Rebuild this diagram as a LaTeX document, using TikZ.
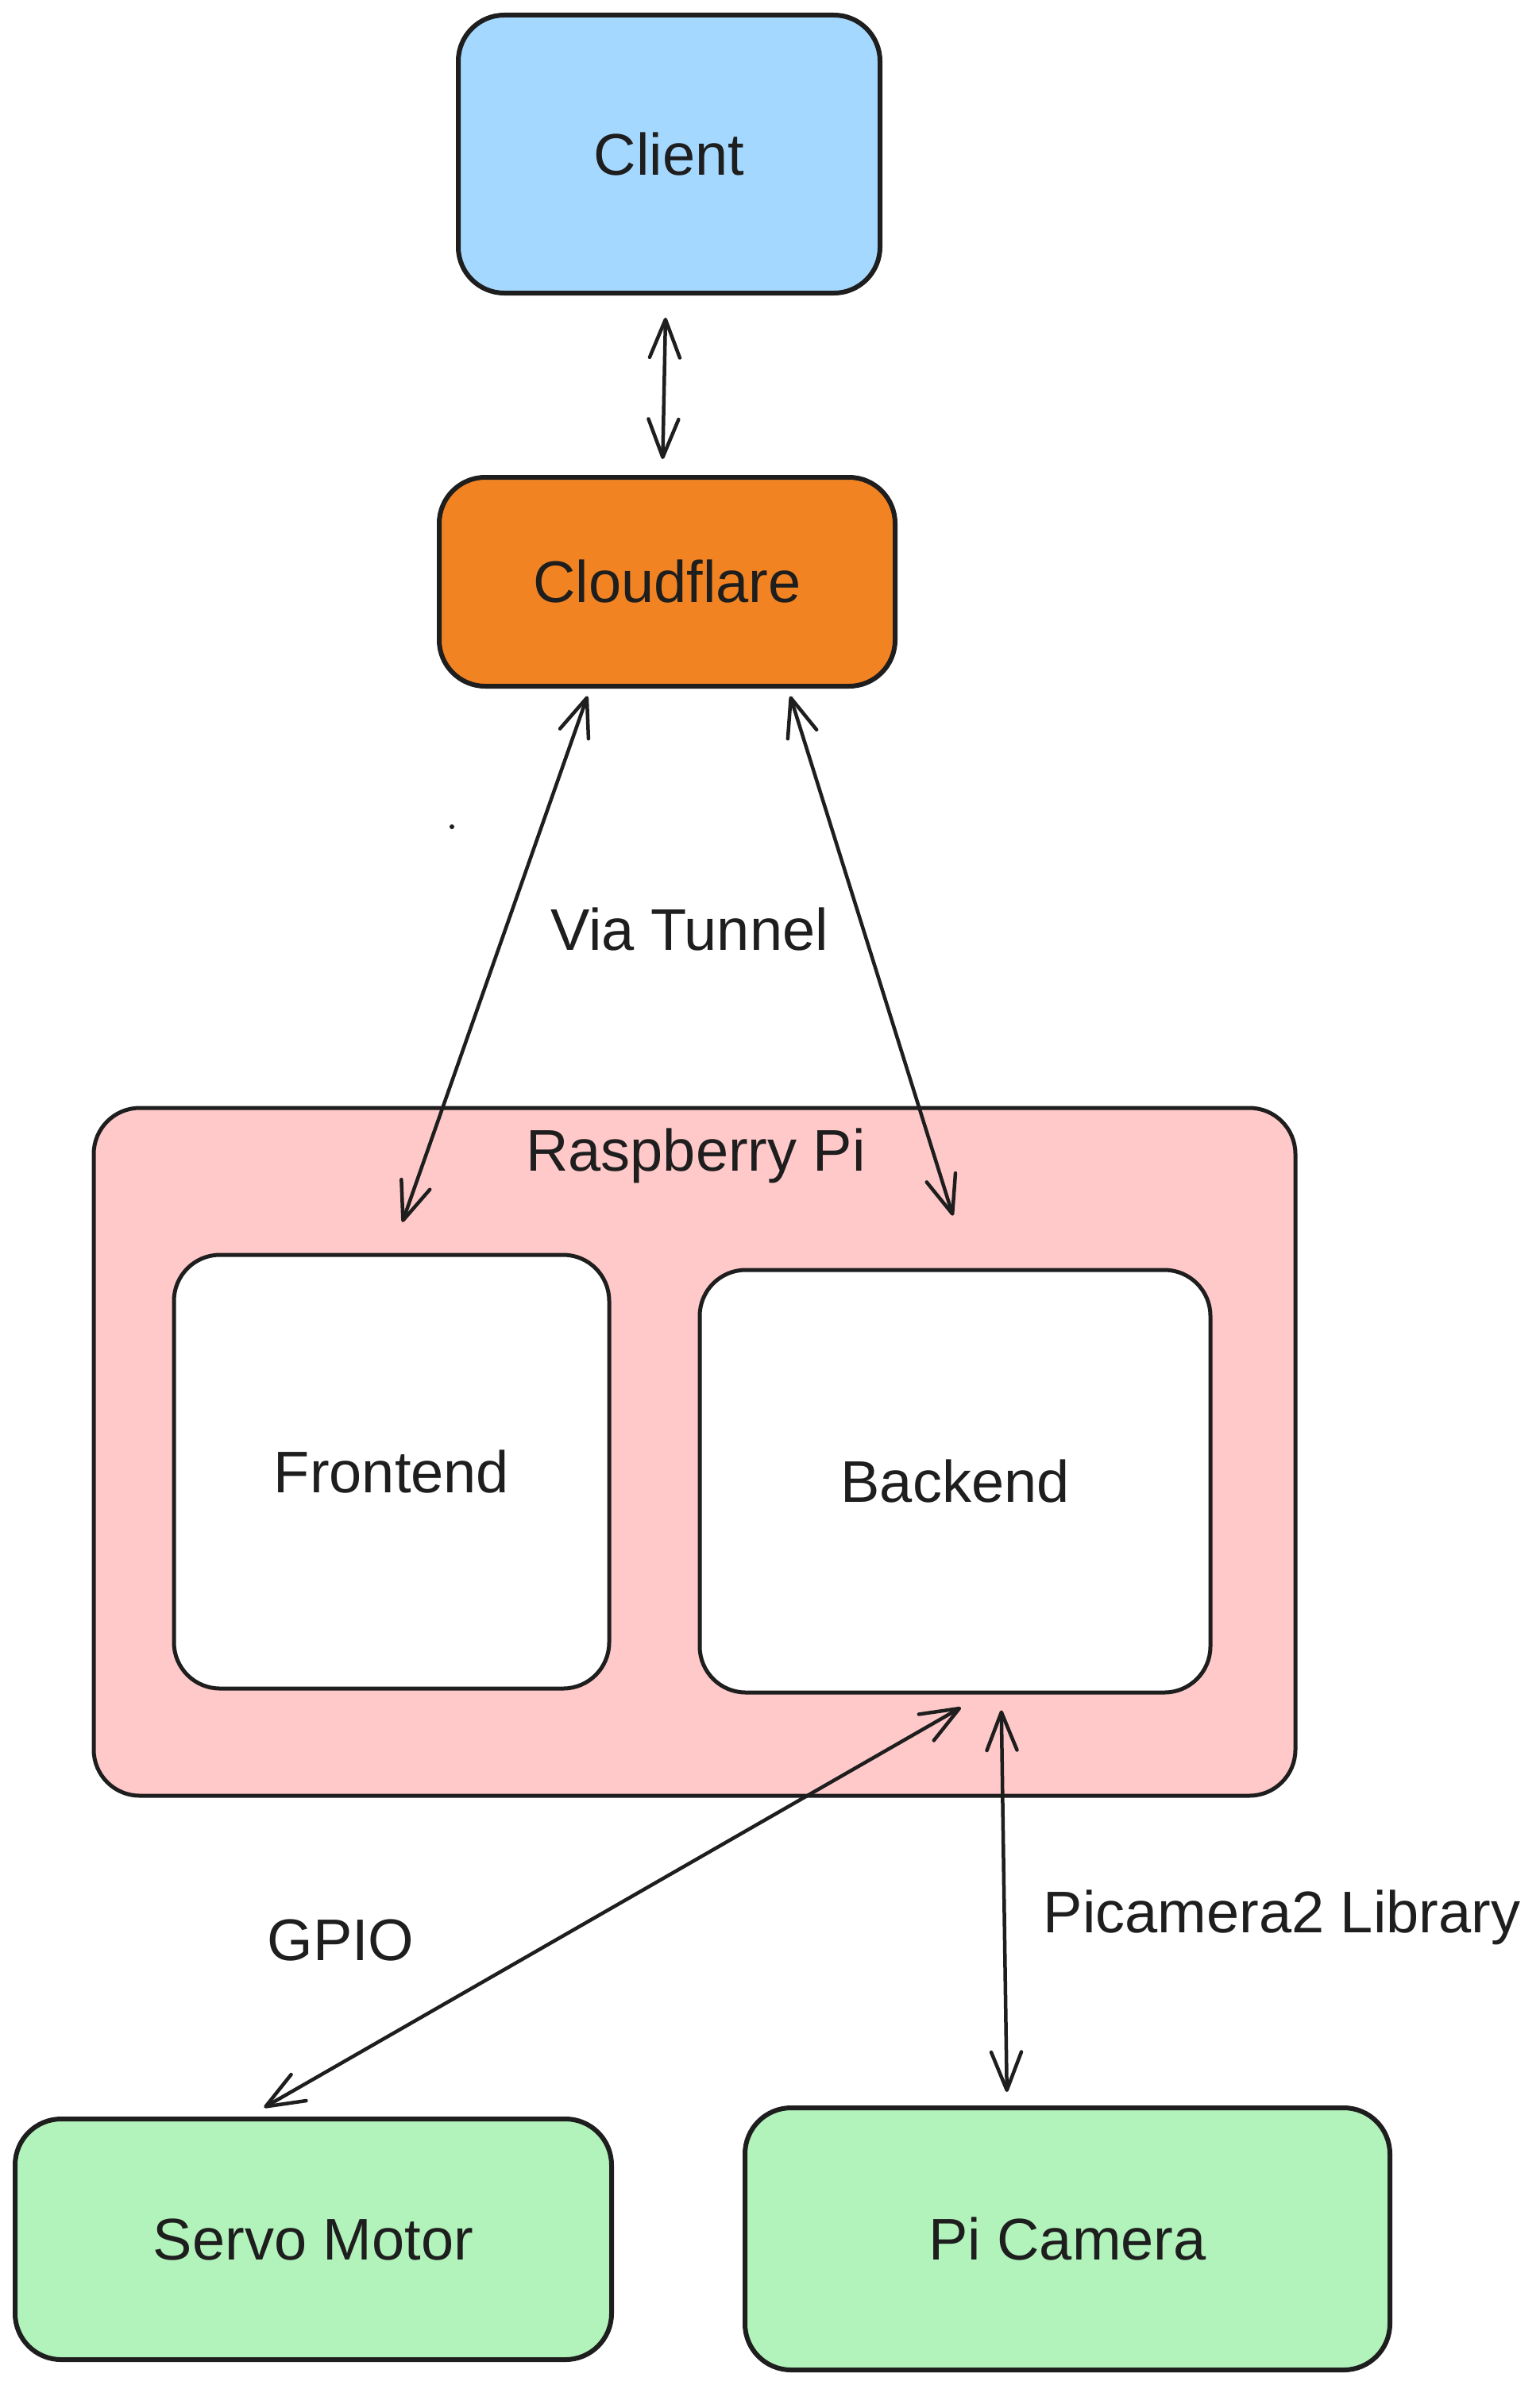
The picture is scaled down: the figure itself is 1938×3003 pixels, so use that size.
\documentclass[tikz,border=0pt]{standalone}
\usepackage{fontspec}
\setmainfont{Liberation Sans}
\usetikzlibrary{arrows.meta}
\definecolor{ink}{HTML}{1E1E1E}
\definecolor{clientfill}{HTML}{A5D8FF}
\definecolor{cloudfill}{HTML}{F28322}
\definecolor{pifill}{HTML}{FFC9C9}
\definecolor{greenfill}{HTML}{B2F2BB}
\begin{document}
\begin{tikzpicture}[x=1pt,y=-1pt,
  box/.style={draw=ink, rounded corners=58pt, line width=6pt, inner sep=0pt,
    font=\fontsize{74}{88}\selectfont, text=ink},
  thinbox/.style={box, line width=5pt},
  lbl/.style={font=\fontsize{74}{88}\selectfont, text=ink, inner sep=0pt},
  biarrow/.style={draw=ink, line width=4.5pt, line cap=round,
    {Straight Barb[length=48pt,width=38pt,round]}-{Straight Barb[length=48pt,width=38pt,round]}}
]
\fill[white] (0,0) rectangle (1938,3003);
\useasboundingbox (0,0) rectangle (1938,3003);

% nodes
\node[box, fill=clientfill, minimum width=531pt, minimum height=350pt] (client) at (842.5,194) {Client};
\node[box, fill=cloudfill, minimum width=574pt, minimum height=263pt] (cloud) at (840,732.5) {Cloudflare};
\node[thinbox, fill=pifill, minimum width=1513pt, minimum height=866pt] (rpi) at (874.5,1828) {};
\node[lbl] (rpilabel) at (876,1455) {Raspberry Pi};
\node[thinbox, fill=white, minimum width=548pt, minimum height=546pt] (frontend) at (493,1853) {Frontend};
\node[thinbox, fill=white, minimum width=643pt, minimum height=532pt] (backend) at (1202.5,1865) {Backend};
\node[box, fill=greenfill, minimum width=751pt, minimum height=303pt] (servo) at (394.5,2819.5) {Servo Motor};
\node[box, fill=greenfill, minimum width=812pt, minimum height=330pt] (picam) at (1344,2819) {Pi Camera};

% labels
\node[lbl] (tunnel) at (868,1170) {Via Tunnel};
\node[lbl] (gpio) at (429,2443) {GPIO};
\node[lbl] (piclib) at (1614,2414) {Picamera2 Library};

% stray dot
\fill[ink] (569,1041) circle (3pt);

% connectors
\draw[biarrow, shorten <=28pt, shorten >=20pt] ([xshift=-4pt]client.south) -- ([xshift=-6pt]cloud.north);
\draw[biarrow, shorten <=10pt, shorten >=41pt] ([xshift=-97pt]cloud.south) -- (frontend.north);
\draw[biarrow, shorten <=10pt, shorten >=69pt] ([xshift=152pt]cloud.south) -- ([xshift=18pt]backend.north);
\draw[biarrow, shorten <=33pt, shorten >=23pt] ([xshift=36pt]backend.south) -- ([xshift=-82pt]servo.north);
\draw[biarrow, shorten <=20pt, shorten >=17pt] ([xshift=58pt]backend.south) -- ([xshift=-76pt]picam.north);
\end{tikzpicture}
\end{document}
